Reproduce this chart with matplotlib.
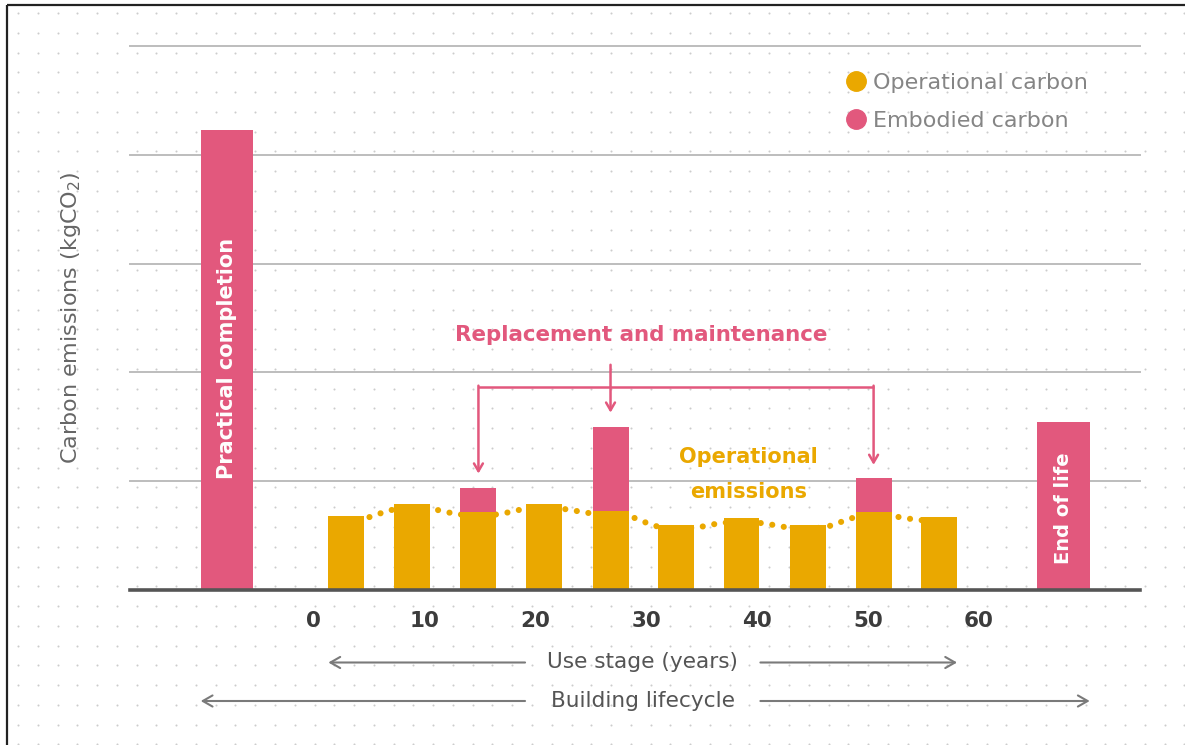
import matplotlib
matplotlib.use("Agg")
import matplotlib.pyplot as plt
from matplotlib.lines import Line2D
from matplotlib.path import Path
from matplotlib.patches import PathPatch
import numpy as np

# ---------------- data ----------------
tick_years = [0, 10, 20, 30, 40, 50, 60]
tick_labels = ["0", "10", "20", "30", "40", "50", "60"]
use_years = [3.0, 8.9, 14.9, 20.8, 26.8, 32.7, 38.6, 44.6, 50.5, 56.4]
operational = [0.68, 0.79, 0.72, 0.79, 0.73, 0.60, 0.66, 0.60, 0.72, 0.67]
embodied = [0.0, 0.0, 0.22, 0.0, 0.77, 0.0, 0.0, 0.0, 0.31, 0.0]
completion_x = -7.75
completion_value = 4.23
end_x = 67.6
end_value = 1.54
replacement_idx = [2, 4, 8]

# ---------------- style ----------------
YEL = "#EAA800"
PINK = "#E2587D"
FONT = "DejaVu Sans"
W, H = 1185, 745

fig = plt.figure(figsize=(W / 100, H / 100), dpi=100)
fig.patch.set_facecolor("white")

# background dot grid + frame
bg = fig.add_axes([0, 0, 1, 1], zorder=-5)
bg.set_xlim(0, W)
bg.set_ylim(H, 0)
bg.axis("off")
gx, gy = np.meshgrid(np.arange(18, W, 19.77), np.arange(13, H, 19.77))
bg.scatter(gx.ravel(), gy.ravel(), s=2.2, color="#cccccc", linewidths=0)
bg.plot([7, 7], [5, H], color="#222222", lw=1.6, solid_capstyle="butt")
bg.plot([7, W], [5, 5], color="#222222", lw=1.6, solid_capstyle="butt")

# main axes
ax = fig.add_axes([130 / W, (H - 590) / H, 1010 / W, 544 / H])
ax.set_facecolor("none")
ax.set_xlim(-16.49, 74.5)
ax.set_ylim(0, 5)
for s in ax.spines.values():
    s.set_visible(False)
ax.set_yticks([])

for g in [1, 2, 3, 4, 5]:
    ax.axhline(g, color="#bdbdbd", lw=1.4, zorder=1, clip_on=False)
ax.axhline(0, color="#555555", lw=2.6, zorder=6, clip_on=False)

bw = 3.24
bwl = 4.74
# operational dotted connecting curve (slightly below the bar tops)
off = 0.035
verts = [(use_years[0], operational[0] - off)]
codes = [Path.MOVETO]
for i in range(len(use_years) - 1):
    x0, y0 = use_years[i], operational[i] - off
    x1, y1 = use_years[i + 1], operational[i + 1] - off
    d = (x1 - x0) * 0.5
    verts += [(x0 + d, y0), (x1 - d, y1), (x1, y1)]
    codes += [Path.CURVE4] * 3
curve = PathPatch(Path(verts, codes), facecolor="none", edgecolor=YEL, lw=4.4,
                  linestyle=(0, (0.01, 1.9)), capstyle="round", zorder=2)
ax.add_patch(curve)

ax.bar(use_years, operational, width=bw, color=YEL, zorder=3)
ax.bar(use_years, embodied, width=bw, bottom=operational, color=PINK, zorder=3)
ax.bar([completion_x, end_x], [completion_value, end_value], width=bwl, color=PINK, zorder=3)

ax.text(completion_x, 2.13, "Practical completion", rotation=90, color="white",
        fontsize=15, fontweight="bold", family=FONT, ha="center", va="center", zorder=5)
ax.text(end_x, 0.75, "End of life", rotation=90, color="white",
        fontsize=14, fontweight="bold", family=FONT, ha="center", va="center", zorder=5)

ax.set_xticks(tick_years)
ax.set_xticklabels(tick_labels, fontsize=15.5, fontweight="bold", family=FONT, color="#3c3c3c")
ax.tick_params(axis="x", length=0, pad=15)

# replacement annotation
rx = [use_years[i] for i in replacement_idx]
tops = [operational[i] + embodied[i] for i in replacement_idx]
ybr = 1.87
ax.plot([rx[0], rx[-1]], [ybr, ybr], color=PINK, lw=1.8, solid_capstyle="butt", zorder=4)
arrow = dict(arrowstyle="->,head_length=0.55,head_width=0.32", color=PINK, lw=1.8,
             shrinkA=0, shrinkB=0)
ax.annotate("", xy=(rx[0], tops[0] + 0.13), xytext=(rx[0], ybr + 0.008), arrowprops=arrow, zorder=4)
ax.annotate("", xy=(rx[2], tops[2] + 0.12), xytext=(rx[2], ybr + 0.008), arrowprops=arrow, zorder=4)
ax.annotate("", xy=(rx[1], tops[1] + 0.13), xytext=(rx[1], 2.07), arrowprops=arrow, zorder=4)
ax.text(29.6, 2.34, "Replacement and maintenance", color=PINK, fontsize=15.4,
        fontweight="bold", family=FONT, ha="center", va="center")
ax.text(39.2, 1.06, "Operational\nemissions", color=YEL, fontsize=15, linespacing=1.95,
        fontweight="bold", family=FONT, ha="center", va="center")

ax.set_ylabel("Carbon emissions (kgCO$_2$)", fontsize=16, color="#666666", family=FONT)
ax.yaxis.set_label_coords(-0.047, 0.5)

# bottom arrows
tr = ax.get_xaxis_transform()
garrow = dict(arrowstyle="->,head_length=0.7,head_width=0.4", color="#7a7a7a", lw=1.5,
              shrinkA=0, shrinkB=0)
y_use = (590 - 662.5) / 544
y_life = (590 - 701) / 544
left_use = use_years[0] - bw / 2
right_use = use_years[-1] + bw / 2
left_life = completion_x - bwl / 2
right_life = end_x + bwl / 2
ax.annotate("", xy=(left_use, y_use), xytext=(19.1, y_use), xycoords=tr, textcoords=tr,
            arrowprops=garrow, annotation_clip=False)
ax.annotate("", xy=(right_use, y_use), xytext=(40.3, y_use), xycoords=tr, textcoords=tr,
            arrowprops=garrow, annotation_clip=False)
ax.annotate("", xy=(left_life, y_life), xytext=(19.1, y_life), xycoords=tr, textcoords=tr,
            arrowprops=garrow, annotation_clip=False)
ax.annotate("", xy=(right_life, y_life), xytext=(40.3, y_life), xycoords=tr, textcoords=tr,
            arrowprops=garrow, annotation_clip=False)
ax.text(29.7, y_use, "Use stage (years)", transform=tr, ha="center", va="center",
        fontsize=15.6, color="#555555", family=FONT)
ax.text(29.7, y_life, "Building lifecycle", transform=tr, ha="center", va="center",
        fontsize=15.6, color="#555555", family=FONT)

# legend
handles = [Line2D([], [], marker="o", linestyle="none", markersize=14, color=YEL,
                  label="Operational carbon"),
           Line2D([], [], marker="o", linestyle="none", markersize=14, color=PINK,
                  label="Embodied carbon")]
leg = fig.legend(handles=handles, loc="upper left", bbox_to_anchor=(835 / W, 1 - 62 / H),
                 frameon=False, prop={"family": FONT, "size": 16}, labelcolor="#858585",
                 handletextpad=0.3, labelspacing=0.8, handlelength=0.9, borderpad=0)

fig.savefig("out.png", dpi=100)
